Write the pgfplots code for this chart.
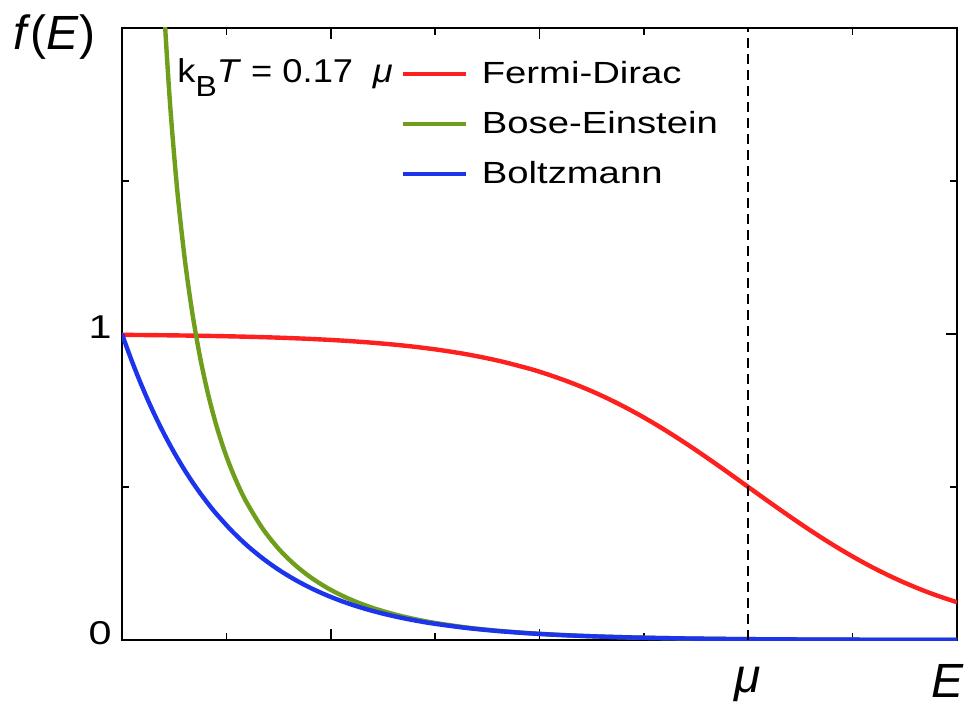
\documentclass[border=0pt]{standalone}
\usepackage{fontspec}
\setmainfont{Liberation Sans}
\newfontfamily\legfont[FakeStretch=1.25]{Liberation Sans}
\newfontfamily\kbfont[FakeStretch=1.1]{Liberation Sans}
\newfontfamily\tickfont[FakeStretch=1.25]{Liberation Sans}
\usepackage{pgfplots}
\pgfplotsset{compat=1.18}
\definecolor{fdred}{RGB}{252,32,30}
\definecolor{begreen}{RGB}{110,158,28}
\definecolor{mbblue}{RGB}{28,52,236}
\begin{document}
\begin{tikzpicture}
\begin{axis}[
  at={(0pt,0pt)}, anchor=south west,
  scale only axis, width=417.5pt, height=306pt,
  xmin=0, xmax=1.33333, ymin=0, ymax=2,
  axis line style={line width=1pt},
  xtick={0.33333,0.66667}, xticklabels={},
  minor xtick={0.16667,0.5,0.83333,1.16667},
  ytick={0,1}, yticklabels={0,1},
  minor ytick={0.5,1.5},
  tick style={black, line width=0.8pt},
  major tick length=5.5pt, minor tick length=3.5pt,
  tick pos=both, tick align=inside,
  /pgf/number format/assume math mode=true,
  yticklabel style={font={\tickfont\fontsize{16.5}{18}\selectfont}, inner sep=0pt, anchor=east, xshift=-5pt, yshift=3.5pt},
  clip=true,
  legend style={at={(rel axis cs:0.333,0.9529)}, anchor=north west, draw=none, fill=none, inner sep=0pt,
    font={\legfont\fontsize{15.3}{18}\selectfont}, row sep=8pt, column sep=7pt,
    nodes={inner sep=0pt, text height=13pt, text depth=4pt}},
  legend cell align=left,
  legend image code/.code={\draw[#1] (0pt,0pt) -- (31.5pt,0pt);},
]
\addplot[fdred, line width=2.2pt, smooth] coordinates {
(0,0.99722) (0.05,0.99627) (0.1,0.99500) (0.15,0.99331) (0.2,0.99104) (0.25,0.98801)
(0.3,0.98398) (0.35,0.97862) (0.4,0.97151) (0.45,0.96214) (0.5,0.94985) (0.55,0.93383)
(0.6,0.91317) (0.65,0.88691) (0.675,0.87122) (0.7,0.85381) (0.725,0.83446) (0.75,0.81314)
(0.775,0.78977) (0.8,0.76430) (0.825,0.73680) (0.85,0.70731) (0.875,0.67598) (0.9,0.64296)
(0.925,0.60852) (0.95,0.57301) (0.975,0.53669) (1.0,0.5) (1.025,0.46330) (1.05,0.42700)
(1.075,0.39146) (1.1,0.35704) (1.125,0.32404) (1.15,0.29269) (1.175,0.26319) (1.2,0.23567)
(1.225,0.21023) (1.25,0.18684) (1.275,0.16552) (1.3,0.14619) (1.33333,0.12338)};
\addlegendentry{Fermi-Dirac}
\addplot[begreen, line width=2.2pt, smooth] coordinates {
(0.05,2.9245) (0.0625,2.2506) (0.075,1.80332) (0.0875,1.48557) (0.1,1.24874) (0.1125,1.06586)
(0.125,0.92073) (0.1375,0.80305) (0.15,0.70592) (0.1625,0.62462) (0.175,0.55573) (0.1875,0.49677)
(0.2,0.44585) (0.225,0.36275) (0.25,0.29834) (0.275,0.24745) (0.3,0.20661) (0.325,0.17346)
(0.35,0.14627) (0.375,0.12379) (0.4,0.10508) (0.425,0.08942) (0.45,0.07626) (0.475,0.06515)
(0.5,0.05575) (0.55,0.04096) (0.6,0.03021) (0.65,0.02234) (0.7,0.01655) (0.75,0.01228)
(0.8,0.00912) (0.85,0.00678) (0.9,0.00505) (0.95,0.00376) (1.0,0.00280) (1.1,0.00155)
(1.2,0.00086) (1.33333,0.00039)};
\addlegendentry{Bose-Einstein}
\addplot[mbblue, line width=2.2pt, smooth] coordinates {
(0,1) (0.0125,0.929109) (0.025,0.863244) (0.0375,0.802048) (0.05,0.745190) (0.0625,0.692362)
(0.075,0.643281) (0.0875,0.597678) (0.1,0.555306) (0.1125,0.515940) (0.125,0.479365)
(0.1375,0.445383) (0.15,0.413807) (0.175,0.357217) (0.2,0.308363) (0.225,0.266193)
(0.25,0.229789) (0.275,0.198364) (0.3,0.171235) (0.325,0.147818) (0.35,0.127603)
(0.375,0.110152) (0.4,0.095088) (0.425,0.082084) (0.45,0.070859) (0.475,0.061168)
(0.5,0.052803) (0.55,0.039348) (0.6,0.029322) (0.65,0.021850) (0.7,0.016282) (0.75,0.012133)
(0.8,0.009042) (0.85,0.006738) (0.9,0.005021) (0.95,0.003742) (1.0,0.002788) (1.1,0.001549)
(1.2,0.000860) (1.33333,0.000393)};
\addlegendentry{Boltzmann}
\addplot[black, line width=0.8pt, dash pattern=on 5pt off 3pt, forget plot] coordinates {(1,0) (1,2)};
\node[anchor=base west, inner sep=0pt, font={\kbfont\fontsize{16.5}{19}\selectfont}] at (rel axis cs:0,1) [xshift=27.5pt, yshift=-27.5pt] {k\raisebox{-0.4em}{\fontsize{14.5}{16}\selectfont B}\textit{T} = 0.17\hspace{0.6em}\textit{μ}};
\end{axis}
\node[anchor=base west, inner sep=0pt, font={\fontsize{24}{28}\selectfont}] at (-54.5pt,295pt) {\textit{f}(\textit{E})};
\node[anchor=base, inner sep=0pt, font={\fontsize{24}{28}\selectfont}] at (313pt,-26pt) {\textit{μ}};
\node[anchor=base, inner sep=0pt, font={\fontsize{24}{28}\selectfont}] at (413pt,-28.5pt) {\textit{E}};
\pgfresetboundingbox
\path (-61pt,-33.5pt) rectangle (421pt,320pt);
\end{tikzpicture}
\end{document}
